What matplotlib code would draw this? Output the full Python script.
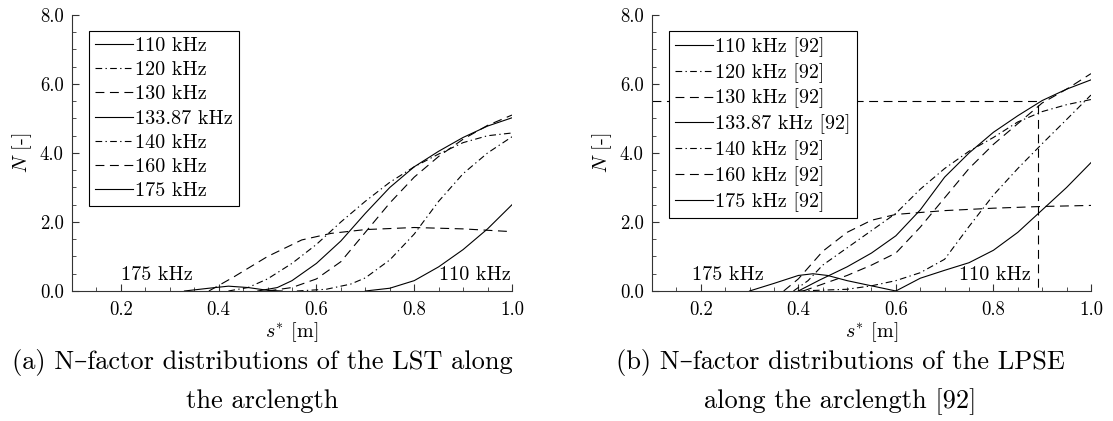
import matplotlib
matplotlib.use("Agg")
import matplotlib.pyplot as plt
from matplotlib.ticker import MultipleLocator, FormatStrFormatter

plt.rcParams['font.family'] = ['cmr10', 'DejaVu Serif']
plt.rcParams['mathtext.fontset'] = 'cm'
plt.rcParams['axes.formatter.use_mathtext'] = True

SP = '\u2004'  # breiteres Leerzeichen (cmr10 hat ein sehr schmales)

# LST (a)
lst_110_s = [0.70, 0.75, 0.80, 0.85, 0.90, 0.95, 1.00]
lst_110_n = [0.00, 0.08, 0.30, 0.70, 1.20, 1.80, 2.50]
lst_120_s = [0.56, 0.62, 0.67, 0.70, 0.75, 0.80, 0.85, 0.90, 0.95, 1.00]
lst_120_n = [0.00, 0.05, 0.20, 0.38, 0.90, 1.65, 2.60, 3.40, 4.00, 4.47]
lst_130_s = [0.50, 0.55, 0.60, 0.65, 0.70, 0.75, 0.80, 0.85, 0.90, 0.95, 1.00]
lst_130_n = [0.00, 0.10, 0.35, 0.85, 1.70, 2.55, 3.30, 3.90, 4.40, 4.80, 5.10]
lst_1338_s = [0.48, 0.52, 0.55, 0.60, 0.65, 0.70, 0.75, 0.80, 0.85, 0.90, 0.95, 1.00]
lst_1338_n = [0.00, 0.10, 0.30, 0.80, 1.45, 2.25, 3.00, 3.60, 4.05, 4.45, 4.78, 5.02]
lst_140_s = [0.42, 0.46, 0.50, 0.55, 0.60, 0.65, 0.70, 0.75, 0.80, 0.85, 0.90, 0.95, 1.00]
lst_140_n = [0.00, 0.10, 0.35, 0.80, 1.35, 2.00, 2.60, 3.15, 3.60, 3.97, 4.30, 4.50, 4.58]
lst_160_s = [0.38, 0.43, 0.50, 0.57, 0.63, 0.70, 0.80, 0.90, 1.00]
lst_160_n = [0.00, 0.40, 1.00, 1.48, 1.67, 1.78, 1.84, 1.80, 1.72]
lst_175_s = [0.33, 0.38, 0.42, 0.46, 0.50, 0.53]
lst_175_n = [0.00, 0.08, 0.14, 0.10, 0.02, 0.00]

# LPSE (b)
pse_110_s = [0.60, 0.65, 0.70, 0.75, 0.80, 0.85, 0.90, 0.95, 1.00]
pse_110_n = [0.00, 0.37, 0.60, 0.82, 1.18, 1.70, 2.35, 3.00, 3.72]
pse_120_s = [0.40, 0.50, 0.55, 0.60, 0.65, 0.70, 0.75, 0.80, 0.85, 0.90, 0.95, 1.00]
pse_120_n = [0.00, 0.05, 0.15, 0.30, 0.53, 0.92, 1.87, 2.78, 3.55, 4.27, 4.97, 5.68]
pse_130_s = [0.41, 0.444, 0.50, 0.55, 0.60, 0.65, 0.70, 0.75, 0.80, 0.85, 0.90, 0.95, 1.00]
pse_130_n = [0.00, 0.17, 0.45, 0.75, 1.10, 1.85, 2.70, 3.55, 4.25, 4.85, 5.45, 5.85, 6.30]
pse_1338_s = [0.40, 0.444, 0.50, 0.55, 0.60, 0.65, 0.70, 0.75, 0.80, 0.85, 0.90, 0.95, 1.00]
pse_1338_n = [0.00, 0.32, 0.70, 1.10, 1.60, 2.35, 3.30, 4.00, 4.60, 5.08, 5.52, 5.85, 6.12]
pse_140_s = [0.39, 0.42, 0.45, 0.50, 0.55, 0.60, 0.65, 0.70, 0.75, 0.80, 0.85, 0.90, 0.95, 1.00]
pse_140_n = [0.00, 0.30, 0.75, 1.25, 1.75, 2.25, 2.95, 3.55, 4.05, 4.45, 4.90, 5.20, 5.40, 5.55]
pse_160_s = [0.37, 0.40, 0.45, 0.50, 0.55, 0.60, 0.70, 0.80, 0.90, 1.00]
pse_160_n = [0.00, 0.35, 1.15, 1.70, 2.05, 2.22, 2.33, 2.40, 2.45, 2.48]
pse_175_s = [0.30, 0.35, 0.40, 0.43, 0.46, 0.50, 0.55, 0.60]
pse_175_n = [0.00, 0.22, 0.45, 0.50, 0.45, 0.30, 0.15, 0.00]

# Kritischer Punkt N = 5.5
crit_s = 0.892
crit_n = 5.5

labels = ['110 kHz', '120 kHz', '130 kHz', '133.87 kHz', '140 kHz', '160 kHz', '175 kHz']
styles = ['-', '-.', '--', '-', '-.', '--', '-']

lst = [(lst_110_s, lst_110_n), (lst_120_s, lst_120_n), (lst_130_s, lst_130_n),
       (lst_1338_s, lst_1338_n), (lst_140_s, lst_140_n), (lst_160_s, lst_160_n),
       (lst_175_s, lst_175_n)]
pse = [(pse_110_s, pse_110_n), (pse_120_s, pse_120_n), (pse_130_s, pse_130_n),
       (pse_1338_s, pse_1338_n), (pse_140_s, pse_140_n), (pse_160_s, pse_160_n),
       (pse_175_s, pse_175_n)]

DASH = (8, 5)
DASHDOT = (6, 3, 1.2, 3)
FS = 14.5


def sp(text):
    return text.replace(' ', SP)


def draw_lines(ax, series, suffix):
    for (s, n), lab, ls in zip(series, labels, styles):
        line, = ax.plot(s, n, color='black', lw=0.8, label=sp(lab + suffix))
        if ls == '--':
            line.set_dashes(DASH)
        elif ls == '-.':
            line.set_dashes(DASHDOT)


def style_axes(ax):
    ax.set_xlim(0.1, 1.0)
    ax.set_ylim(0.0, 8.0)
    ax.spines['top'].set_visible(False)
    ax.spines['right'].set_visible(False)
    for side in ['left', 'bottom']:
        ax.spines[side].set_linewidth(0.8)
        ax.spines[side].set_color('#333333')
    ax.xaxis.set_major_locator(MultipleLocator(0.2))
    ax.xaxis.set_minor_locator(MultipleLocator(0.05))
    ax.yaxis.set_major_locator(MultipleLocator(2.0))
    ax.yaxis.set_minor_locator(MultipleLocator(0.5))
    ax.xaxis.set_major_formatter(FormatStrFormatter('%.1f'))
    ax.yaxis.set_major_formatter(FormatStrFormatter('%.1f'))
    ax.tick_params(which='both', direction='in', labelsize=13.5, color='#333333')
    ax.tick_params(which='major', length=5, width=0.8)
    ax.tick_params(axis='x', which='major', pad=7)
    ax.tick_params(axis='y', which='major', pad=6)
    ax.tick_params(which='minor', length=3, width=0.6)
    ax.set_xlabel(r'$s^{*}$ [m]', fontsize=FS, labelpad=1)
    ax.set_ylabel(r'$N$ [-]', fontsize=FS, labelpad=4)
    leg = ax.legend(loc='upper left', bbox_to_anchor=(0.039, 0.942), fontsize=FS,
                    frameon=True, fancybox=False, edgecolor='black', framealpha=1,
                    handlelength=1.9, handletextpad=0.1, labelspacing=0.3,
                    borderpad=0.3, borderaxespad=0.0)
    leg.get_frame().set_linewidth(0.8)


fig = plt.figure(figsize=(11.13, 4.21), dpi=100)
ax1 = fig.add_axes([0.0647, 0.3088, 0.3953, 0.6556])
ax2 = fig.add_axes([0.5858, 0.3088, 0.3944, 0.6556])

draw_lines(ax1, lst, '')
style_axes(ax1)
ax1.text(0.274, 0.45, sp('175 kHz'), fontsize=FS, ha='center', va='center')
ax1.text(0.924, 0.45, sp('110 kHz'), fontsize=FS, ha='center', va='center')

draw_lines(ax2, pse, ' [92]')
ax2.plot([0.1, crit_s, crit_s], [crit_n, crit_n, 0.0], color='black', lw=0.8,
         dashes=DASH, clip_on=False)
style_axes(ax2)
ax2.text(0.256, 0.45, sp('175 kHz'), fontsize=FS, ha='center', va='center')
ax2.text(0.803, 0.45, sp('110 kHz'), fontsize=FS, ha='center', va='center')

CAP = 19
fig.text(0.236, 0.138, sp('(a) N–factor distributions of the LST along'), fontsize=CAP,
         ha='center', va='center')
fig.text(0.236, 0.047, sp('the arclength'), fontsize=CAP, ha='center', va='center')
fig.text(0.755, 0.138, sp('(b) N–factor distributions of the LPSE'), fontsize=CAP,
         ha='center', va='center')
fig.text(0.755, 0.047, sp('along the arclength [92]'), fontsize=CAP, ha='center', va='center')

fig.savefig('out.png', dpi=100)
